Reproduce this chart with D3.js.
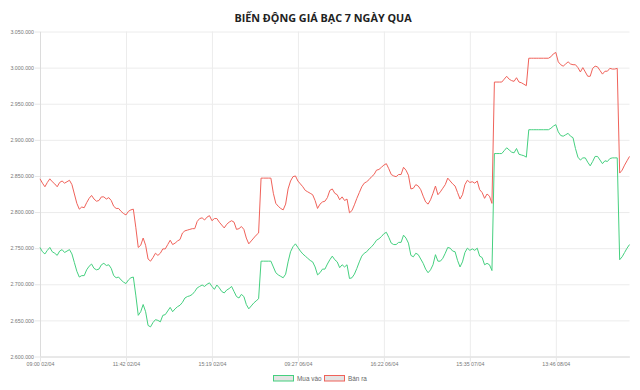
<!DOCTYPE html>
<html>
<head>
<meta charset="utf-8">
<script src="https://cdn.jsdelivr.net/npm/d3@7"></script>
<style>
  body { margin: 0; background: #fff; }
  svg { display: block; }
</style>
</head>
<body>
<svg id="vis" width="640" height="390"></svg>
<script>
// x labels shown on the axis (one every 35 points)
const tickLabels = ['09:00 02/04', '11:42 02/04', '15:19 02/04', '09:27 06/04', '16:22 06/04', '15:35 07/04', '13:46 08/04'];
const tickStep = 35;

const yTicks = [2600000, 2650000, 2700000, 2750000, 2800000, 2850000, 2900000, 2950000, 3000000, 3050000];

const seriesNames = ['Mua vào', 'Bán ra'];

// Bán ra
const sellPrices = [
  2846000, 2840000, 2835000, 2841000, 2846000, 2842000, 2839000, 2835000, 2841000, 2843000, 2840000, 2842000, 2844000,
  2838000, 2825000, 2812000, 2804000, 2807000, 2806000, 2813000, 2819000, 2823000, 2818000, 2815000, 2816000, 2821000,
  2821000, 2818000, 2820000, 2816000, 2808000, 2805000, 2805000, 2801000, 2798000, 2796000, 2801000, 2803000, 2804000,
  2779000, 2751000, 2754000, 2764000, 2754000, 2735000, 2732000, 2737000, 2743000, 2740000, 2743000, 2749000, 2749000,
  2755000, 2761000, 2755000, 2757000, 2760000, 2762000, 2771000, 2774000, 2775000, 2776000, 2777000, 2777000, 2787000,
  2791000, 2792000, 2789000, 2793000, 2795000, 2788000, 2791000, 2791000, 2786000, 2782000, 2778000, 2783000, 2786000,
  2788000, 2786000, 2776000, 2777000, 2780000, 2776000, 2764000, 2756000, 2760000, 2764000, 2768000, 2771000, 2847000,
  2847000, 2847000, 2847000, 2847000, 2826000, 2812000, 2808000, 2805000, 2803000, 2811000, 2832000, 2843000, 2849000,
  2850000, 2843000, 2839000, 2835000, 2830000, 2828000, 2826000, 2824000, 2816000, 2805000, 2811000, 2814000, 2815000,
  2820000, 2830000, 2832000, 2826000, 2824000, 2817000, 2821000, 2816000, 2818000, 2799000, 2802000, 2810000, 2819000,
  2827000, 2835000, 2840000, 2842000, 2845000, 2849000, 2852000, 2858000, 2859000, 2862000, 2865000, 2867000, 2860000,
  2852000, 2850000, 2849000, 2852000, 2852000, 2862000, 2858000, 2851000, 2832000, 2833000, 2838000, 2836000, 2831000,
  2822000, 2814000, 2811000, 2817000, 2826000, 2836000, 2824000, 2828000, 2833000, 2838000, 2847000, 2843000, 2839000,
  2836000, 2827000, 2818000, 2824000, 2838000, 2844000, 2841000, 2842000, 2840000, 2843000, 2831000, 2827000, 2819000,
  2825000, 2822000, 2812000, 2980000, 2980000, 2980000, 2980000, 2984000, 2988000, 2984000, 2982000, 2981000, 2986000,
  2980000, 2979000, 2977000, 2975000, 3013000, 3013000, 3013000, 3013000, 3013000, 3013000, 3013000, 3013000, 3013000,
  3015000, 3019000, 3021000, 3008000, 3004000, 3002000, 3005000, 3008000, 3005000, 3004000, 3004000, 3000000, 2994000,
  3000000, 2994000, 2988000, 2988000, 2999000, 3002000, 3001000, 2996000, 2991000, 2995000, 2995000, 2999000, 2998000,
  2998000, 2999000, 2854000, 2858000, 2865000, 2871000, 2877000
];

// Mua vào
const buyPrices = [
  2751000, 2745000, 2742000, 2747000, 2751000, 2745000, 2743000, 2740000, 2746000, 2748000, 2744000, 2746000, 2748000,
  2742000, 2730000, 2718000, 2710000, 2712000, 2712000, 2720000, 2725000, 2728000, 2722000, 2720000, 2721000, 2727000,
  2729000, 2726000, 2727000, 2722000, 2712000, 2709000, 2710000, 2706000, 2703000, 2701000, 2706000, 2709000, 2710000,
  2685000, 2657000, 2662000, 2672000, 2662000, 2643000, 2641000, 2647000, 2651000, 2650000, 2648000, 2657000, 2658000,
  2663000, 2668000, 2662000, 2666000, 2669000, 2671000, 2675000, 2681000, 2683000, 2684000, 2686000, 2690000, 2695000,
  2697000, 2699000, 2697000, 2700000, 2702000, 2697000, 2693000, 2699000, 2695000, 2690000, 2688000, 2692000, 2694000,
  2697000, 2690000, 2683000, 2681000, 2686000, 2683000, 2672000, 2666000, 2670000, 2674000, 2677000, 2680000, 2732000,
  2732000, 2732000, 2732000, 2732000, 2724000, 2716000, 2713000, 2711000, 2709000, 2714000, 2731000, 2745000, 2752000,
  2756000, 2751000, 2746000, 2742000, 2739000, 2736000, 2733000, 2731000, 2724000, 2713000, 2716000, 2721000, 2721000,
  2728000, 2734000, 2739000, 2734000, 2731000, 2723000, 2727000, 2724000, 2727000, 2708000, 2709000, 2714000, 2722000,
  2731000, 2739000, 2743000, 2745000, 2749000, 2752000, 2756000, 2761000, 2763000, 2766000, 2770000, 2772000, 2765000,
  2757000, 2755000, 2755000, 2758000, 2758000, 2768000, 2764000, 2757000, 2740000, 2738000, 2743000, 2741000, 2735000,
  2729000, 2721000, 2716000, 2720000, 2727000, 2741000, 2732000, 2732000, 2736000, 2743000, 2751000, 2750000, 2746000,
  2745000, 2733000, 2724000, 2731000, 2744000, 2750000, 2747000, 2749000, 2747000, 2750000, 2739000, 2737000, 2727000,
  2729000, 2727000, 2719000, 2881000, 2881000, 2881000, 2881000, 2885000, 2889000, 2886000, 2883000, 2882000, 2888000,
  2880000, 2879000, 2878000, 2876000, 2914000, 2914000, 2914000, 2914000, 2914000, 2914000, 2914000, 2914000, 2914000,
  2916000, 2919000, 2921000, 2911000, 2906000, 2905000, 2907000, 2909000, 2905000, 2903000, 2888000, 2876000, 2872000,
  2875000, 2875000, 2869000, 2864000, 2870000, 2877000, 2877000, 2872000, 2867000, 2871000, 2870000, 2874000, 2875000,
  2875000, 2875000, 2734000, 2738000, 2744000, 2750000, 2755000
];

const colors = { buy: '#45d07f', sell: '#f0625a' };
const labelFont = '"Liberation Sans", Arial, sans-serif';

const plot = { left: 40, right: 629.5, top: 31.5, bottom: 356.5 };
const svg = d3.select('#vis');

const idx = d3.range(sellPrices.length);
const xScale = d3.scalePoint()
  .domain(idx)
  .range([plot.left, plot.right]);

const yScale = d3.scaleLinear()
  .domain([yTicks[0], yTicks[yTicks.length - 1]])
  .range([plot.bottom, plot.top]);

const vn = d3.formatLocale({ decimal: ',', thousands: '.', grouping: [3], currency: ['', ' đ'] });
const fmt = vn.format(',d');

const xTickIdx = tickLabels.map((d, i) => i * tickStep);

// grid
svg.append('g')
  .attr('class', 'y-grid')
  .attr('transform', 'translate(' + plot.left + ',0)')
  .call(d3.axisLeft(yScale).tickValues(yTicks).tickSize(-(plot.right - plot.left)).tickFormat(''))
  .call(g => g.select('.domain').remove())
  .selectAll('line').attr('stroke', '#ececec');

svg.append('g')
  .attr('class', 'x-grid')
  .attr('transform', 'translate(0,' + plot.top + ')')
  .call(d3.axisBottom(xScale).tickValues(xTickIdx).tickSize(plot.bottom - plot.top).tickFormat(''))
  .call(g => g.select('.domain').remove())
  .selectAll('line').attr('stroke', '#ececec');

// axes
const yAxis = svg.append('g')
  .attr('class', 'y-axis')
  .attr('transform', 'translate(' + plot.left + ',0)')
  .call(d3.axisLeft(yScale).tickValues(yTicks).tickSize(5).tickSizeOuter(0).tickPadding(1).tickFormat(fmt));
yAxis.select('.domain').attr('stroke', '#dcdcdc');
yAxis.selectAll('line').attr('stroke', '#e6e6e6');
yAxis.selectAll('text').attr('fill', '#777').style('font', '5.3px ' + labelFont);

const xAxis = svg.append('g')
  .attr('class', 'x-axis')
  .attr('transform', 'translate(0,' + plot.bottom + ')')
  .call(d3.axisBottom(xScale).tickValues(xTickIdx).tickSize(5).tickSizeOuter(0).tickPadding(1)
    .tickFormat((d, i) => tickLabels[i]));
xAxis.select('.domain').attr('stroke', '#dcdcdc');
xAxis.selectAll('line').attr('stroke', '#e6e6e6');
xAxis.selectAll('text').attr('fill', '#777').style('font', '5.3px ' + labelFont);

// lines
const line = values => d3.line()
  .x((d, i) => xScale(i))
  .y(d => yScale(d))(values);

svg.append('path')
  .attr('d', line(buyPrices))
  .attr('fill', 'none')
  .attr('stroke', colors.buy)
  .attr('stroke-width', 1)
  .attr('stroke-linejoin', 'round');

svg.append('path')
  .attr('d', line(sellPrices))
  .attr('fill', 'none')
  .attr('stroke', colors.sell)
  .attr('stroke-width', 1)
  .attr('stroke-linejoin', 'round');

// title
svg.append('text')
  .attr('x', 323)
  .attr('y', 21.5)
  .attr('text-anchor', 'middle')
  .attr('font-family', '"Open Sans", sans-serif')
  .attr('font-weight', 700)
  .attr('font-size', '10.8px')
  .attr('fill', '#222')
  .text('BIẾN ĐỘNG GIÁ BẠC 7 NGÀY QUA');

// legend
const legend = [
  { name: seriesNames[0], color: colors.buy, x: 273 },
  { name: seriesNames[1], color: colors.sell, x: 324 }
];
const lg = svg.append('g').attr('class', 'legend');
legend.forEach(d => {
  lg.append('rect')
    .attr('x', d.x + 0.5)
    .attr('y', 375.5)
    .attr('width', 20)
    .attr('height', 5.5)
    .attr('fill', '#e4e4e4')
    .attr('stroke', d.color)
    .attr('stroke-width', 1);
  lg.append('text')
    .attr('x', d.x + 24)
    .attr('y', 380.8)
    .attr('fill', '#666')
    .style('font', '6.4px ' + labelFont)
    .text(d.name);
});
</script>
</body>
</html>
